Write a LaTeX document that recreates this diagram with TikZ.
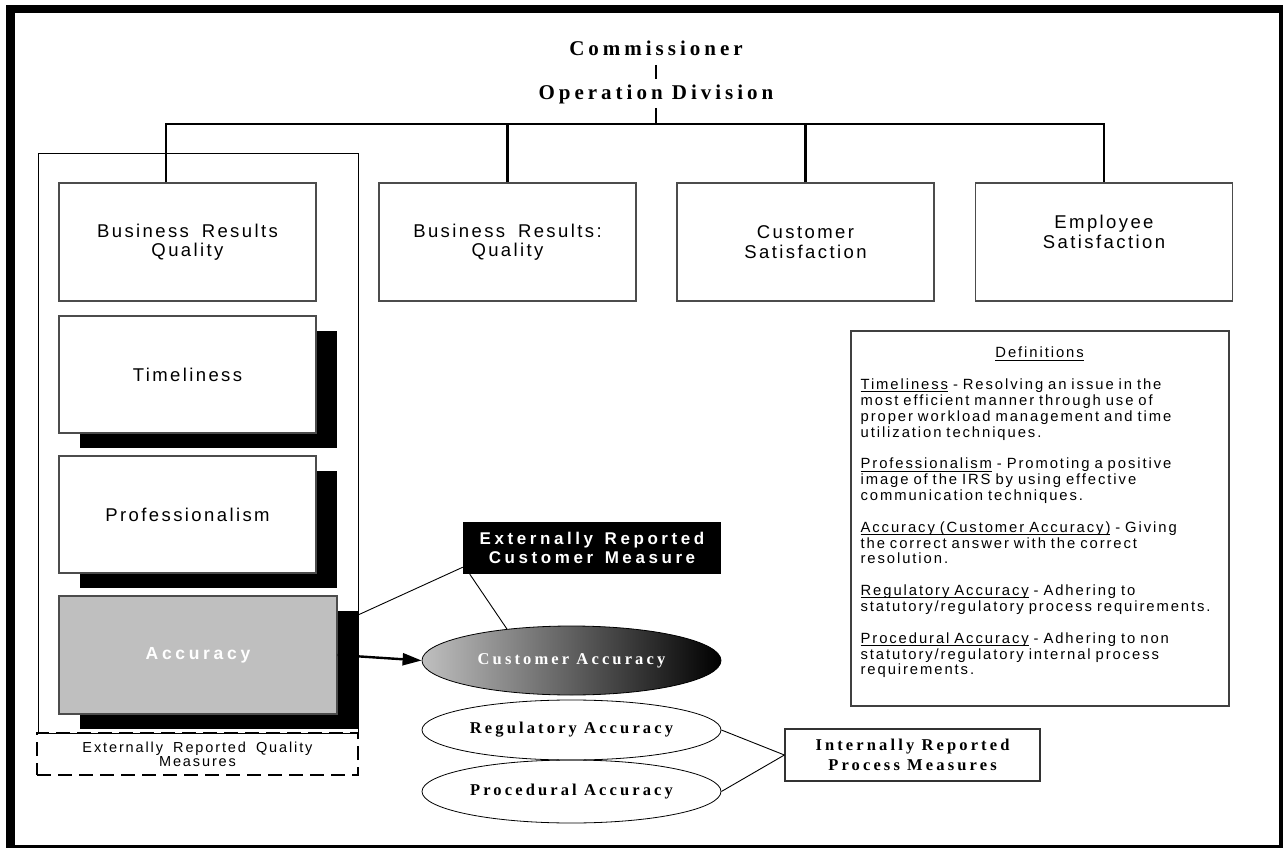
\documentclass[tikz,border=0pt]{standalone}
\usepackage{fontspec}
\newfontfamily\plainsans[LetterSpace=13, WordSpace=1.7]{Liberation Sans}
\newfontfamily\heavysans[LetterSpace=21, WordSpace=1.4]{Liberation Sans}
\newfontfamily\heavyserif[LetterSpace=19]{Liberation Serif}
\newcommand\defterm[1]{\leavevmode\setbox0\hbox{#1}\rlap{\rule[-2.5pt]{\wd0}{0.8pt}}\box0\relax}
\usetikzlibrary{shapes.geometric, shadows, arrows.meta}

\tikzset{
  trunk/.style={line width=2.6pt},
  link/.style={line width=0.9pt},
  pointer/.style={line width=2.4pt, -{Triangle[length=19pt, width=12pt]}},
  headtext/.style={anchor=base, inner sep=0pt, font=\heavyserif\bfseries\fontsize{21}{24}\selectfont},
  boxtext/.style={align=center, font=\plainsans\fontsize{18.5}{19.5}\selectfont},
  topbox/.style={boxtext, draw=black!70, line width=1.2pt, minimum width=257pt, minimum height=118pt},
  stackbox/.style={topbox, fill=white, minimum height=117pt,
    drop shadow={shadow xshift=21pt, shadow yshift=-15pt, fill=black, opacity=1}},
  accbox/.style={minimum width=278pt, minimum height=118pt, fill=black!25, text=white,
    font=\heavysans\bfseries\fontsize{17.5}{19}\selectfont},
  dashbox/.style={draw, line width=2.4pt, dash pattern=on 14pt off 7pt, minimum width=321pt,
    minimum height=42pt, inner sep=0pt, align=center, font=\plainsans\fontsize{14.5}{14}\selectfont},
  blackbox/.style={fill=black, text=white, minimum width=258pt, minimum height=52pt, align=center,
    font=\heavysans\bfseries\fontsize{17}{19}\selectfont},
  oval/.style={ellipse, draw, line width=0.8pt, minimum width=299pt, inner sep=0pt,
    font=\heavyserif\bfseries\fontsize{16.5}{19}\selectfont},
  shadedoval/.style={left color=black!25, right color=black, text=white, minimum height=69pt},
  procbox/.style={draw=black!80, line width=1.2pt, minimum width=255pt, minimum height=52pt, align=center,
    font=\heavyserif\bfseries\fontsize{16.5}{20}\selectfont},
  defframe/.style={draw=black!75, line width=1.2pt, minimum width=378pt, minimum height=375pt},
  deftext/.style={anchor=north west, inner sep=0pt, text width=375pt, align=left,
    font=\plainsans\fontsize{14.8}{15.8}\selectfont}
}

\begin{document}
\begin{tikzpicture}[x=1pt, y=-1pt]
\useasboundingbox (0,0) rectangle (1283,848);
\draw[line width=8.5pt] (10.5,9) rectangle (1283.5,849.5);

\node[headtext] (comm) at (656,56) {Commissioner};
\node[headtext] (opdiv) at (656,100) {Operation Division};
\coordinate (hub) at (656,124);
\draw[trunk] ([yshift=-9pt]comm.base) -- ([yshift=21pt]opdiv.base);
\draw[trunk] ([yshift=-8pt]opdiv.base) -- (hub);

\draw[line width=0.8pt] (38,153) rectangle (358,733);
\node[topbox] (brq) at (187.5,242) {Business Results\\Quality};
\node[topbox] (brq2) at (507.5,242) {Business Results:\\Quality};
\node[topbox] (cust) at (805.5,242) {Customer\\Satisfaction};
\node[topbox] (emp) at (1104,242) {};
\node[boxtext] (empt) at (1104,232) {Employee\\Satisfaction};
\draw[trunk] ([xshift=-21.5pt]brq.north) |- (hub) -| (emp.north);
\draw[trunk] (brq2.north) -- (brq2.north |- hub);
\draw[trunk] (cust.north) -- (cust.north |- hub);

\node[stackbox] (time) at (187.5,374.5) {Timeliness};
\node[stackbox] (prof) at (187.5,514.5) {Professionalism};
\node[stackbox, accbox] (acc) at (198,655) {Accuracy};
\node[dashbox] (qmeas) at (197.5,754) {Externally Reported Quality\\Measures};

\node[blackbox] (extlab) at (592,548) {Externally Reported\\Customer Measure};
\node[oval, shadedoval] (custacc) at (571.5,660.5) {Customer Accuracy};
\node[oval, minimum height=60pt] (regacc) at (571.5,730) {Regulatory Accuracy};
\node[oval, minimum height=63pt] (procacc) at (571.5,791.5) {Procedural Accuracy};
\node[procbox] (intrep) at (912.5,755) {Internally Reported\\Process Measures};

\coordinate (accshade) at (358,615);
\draw[link] (accshade) -- ([yshift=7pt]extlab.south west);
\draw[link] ([xshift=7pt]extlab.south west) -- (custacc.154);
\draw[pointer] (acc.east) -- (custacc.west);
\draw[link] (regacc.east) -- (intrep.west);
\draw[link] (procacc.east) -- (intrep.west);

\node[defframe] (defbox) at (1040,518.5) {};
\node[deftext] (deflines) at ([shift={(10,16.5)}]defbox.north west) {%
\makebox[358pt]{\defterm{Definitions}}\\[16pt]
\defterm{Timeliness} - Resolving an issue in the\\
most efficient manner through use of\\
proper workload management and time\\
utilization techniques.\\[16pt]
\defterm{Professionalism} - Promoting a positive\\
image of the IRS by using effective\\
communication techniques.\\[16pt]
\defterm{Accuracy (Customer Accuracy)} - Giving\\
the correct answer with the correct\\
resolution.\\[16pt]
\defterm{Regulatory Accuracy} - Adhering to\\
statutory/regulatory process requirements.\\[16pt]
\defterm{Procedural Accuracy} - Adhering to non\\
statutory/regulatory internal process\\
requirements.};
\end{tikzpicture}
\end{document}
